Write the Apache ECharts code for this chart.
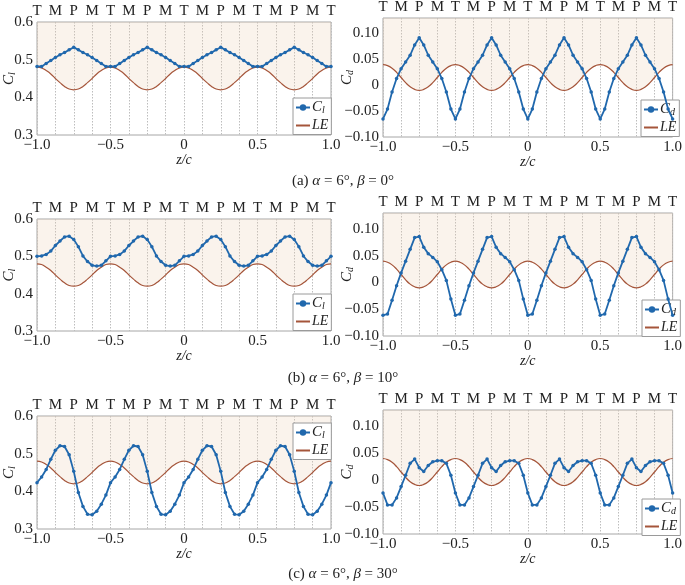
<!DOCTYPE html>
<html><head><meta charset="utf-8">
<script src="https://cdn.jsdelivr.net/npm/echarts@6/dist/echarts.min.js"></script>
<style>html,body{margin:0;padding:0;background:#fff}#c{width:685px;height:585px}</style>
</head><body><div id="c"></div>
<script>
// ---- data ----
const z = [-1,-0.96875,-0.9375,-0.90625,-0.875,-0.84375,-0.8125,-0.78125,-0.75,-0.71875,-0.6875,-0.65625,-0.625,-0.59375,-0.5625,-0.53125,
-0.5,-0.46875,-0.4375,-0.40625,-0.375,-0.34375,-0.3125,-0.28125,-0.25,-0.21875,-0.1875,-0.15625,-0.125,-0.09375,-0.0625,-0.03125,
0,0.03125,0.0625,0.09375,0.125,0.15625,0.1875,0.21875,0.25,0.28125,0.3125,0.34375,0.375,0.40625,0.4375,0.46875,
0.5,0.53125,0.5625,0.59375,0.625,0.65625,0.6875,0.71875,0.75,0.78125,0.8125,0.84375,0.875,0.90625,0.9375,0.96875,1];

const topLabels = ['T','M','P','M','T','M','P','M','T','M','P','M','T','M','P','M','T'];

const leL = [0.480,0.478,0.471,0.462,0.450,0.439,0.429,0.422,0.420,0.422,0.429,0.439,0.450,0.462,0.471,0.478,
0.480,0.478,0.471,0.462,0.450,0.439,0.429,0.422,0.420,0.422,0.429,0.439,0.450,0.462,0.471,0.478,
0.480,0.478,0.471,0.462,0.450,0.439,0.429,0.422,0.420,0.422,0.429,0.439,0.450,0.462,0.471,0.478,
0.480,0.478,0.471,0.462,0.450,0.439,0.429,0.422,0.420,0.422,0.429,0.439,0.450,0.462,0.471,0.478,0.480];

const leR = [0.040,0.038,0.033,0.025,0.015,0.005,-0.003,-0.008,-0.010,-0.008,-0.003,0.005,0.015,0.025,0.033,0.038,
0.040,0.038,0.033,0.025,0.015,0.005,-0.003,-0.008,-0.010,-0.008,-0.003,0.005,0.015,0.025,0.033,0.038,
0.040,0.038,0.033,0.025,0.015,0.005,-0.003,-0.008,-0.010,-0.008,-0.003,0.005,0.015,0.025,0.033,0.038,
0.040,0.038,0.033,0.025,0.015,0.005,-0.003,-0.008,-0.010,-0.008,-0.003,0.005,0.015,0.025,0.033,0.038,0.040];

const clA = [0.482,0.482,0.490,0.498,0.506,0.513,0.519,0.526,0.533,0.526,0.519,0.513,0.506,0.498,0.490,0.482,
0.482,0.482,0.490,0.498,0.506,0.513,0.519,0.526,0.533,0.526,0.519,0.513,0.506,0.498,0.490,0.482,
0.482,0.482,0.490,0.498,0.506,0.513,0.519,0.526,0.533,0.526,0.519,0.513,0.506,0.498,0.490,0.482,
0.482,0.482,0.490,0.498,0.506,0.513,0.519,0.526,0.533,0.526,0.519,0.513,0.506,0.498,0.490,0.482,0.482];

const cdA = [-0.065,-0.046,-0.013,0.013,0.032,0.045,0.058,0.078,0.092,0.078,0.058,0.045,0.032,0.013,-0.013,-0.046,
-0.065,-0.046,-0.013,0.013,0.032,0.045,0.058,0.078,0.092,0.078,0.058,0.045,0.032,0.013,-0.013,-0.046,
-0.065,-0.046,-0.013,0.013,0.032,0.045,0.058,0.078,0.092,0.078,0.058,0.045,0.032,0.013,-0.013,-0.046,
-0.065,-0.046,-0.013,0.013,0.032,0.045,0.058,0.078,0.092,0.078,0.058,0.045,0.032,0.013,-0.013,-0.046,-0.065];

const clB = [0.500,0.501,0.505,0.514,0.529,0.541,0.552,0.554,0.545,0.526,0.501,0.486,0.476,0.474,0.476,0.488,
0.500,0.501,0.505,0.514,0.529,0.541,0.552,0.554,0.545,0.526,0.501,0.486,0.476,0.474,0.476,0.488,
0.500,0.501,0.505,0.514,0.529,0.541,0.552,0.554,0.545,0.526,0.501,0.486,0.476,0.474,0.476,0.488,
0.500,0.501,0.505,0.514,0.529,0.541,0.552,0.554,0.545,0.526,0.501,0.486,0.476,0.474,0.476,0.488,0.500];

const cdB = [-0.061,-0.059,-0.033,-0.006,0.018,0.040,0.062,0.084,0.086,0.066,0.054,0.047,0.039,0.024,0.004,-0.031,
-0.061,-0.059,-0.033,-0.006,0.018,0.040,0.062,0.084,0.086,0.066,0.054,0.047,0.039,0.024,0.004,-0.031,
-0.061,-0.059,-0.033,-0.006,0.018,0.040,0.062,0.084,0.086,0.066,0.054,0.047,0.039,0.024,0.004,-0.031,
-0.061,-0.059,-0.033,-0.006,0.018,0.040,0.062,0.084,0.086,0.066,0.054,0.047,0.039,0.024,0.004,-0.031,-0.061];

const clC = [0.423,0.438,0.458,0.485,0.509,0.521,0.519,0.497,0.453,0.397,0.360,0.339,0.338,0.347,0.366,0.390,
0.423,0.438,0.458,0.485,0.509,0.521,0.519,0.497,0.453,0.397,0.360,0.339,0.338,0.347,0.366,0.390,
0.423,0.438,0.458,0.485,0.509,0.521,0.519,0.497,0.453,0.397,0.360,0.339,0.338,0.347,0.366,0.390,
0.423,0.438,0.458,0.485,0.509,0.521,0.519,0.497,0.453,0.397,0.360,0.339,0.338,0.347,0.366,0.390,0.423];

const cdC = [-0.024,-0.046,-0.046,-0.033,-0.012,0.009,0.031,0.039,0.023,0.016,0.027,0.034,0.036,0.036,0.031,0.009,
-0.024,-0.046,-0.046,-0.033,-0.012,0.009,0.031,0.039,0.023,0.016,0.027,0.034,0.036,0.036,0.031,0.009,
-0.024,-0.046,-0.046,-0.033,-0.012,0.009,0.031,0.039,0.023,0.016,0.027,0.034,0.036,0.036,0.031,0.009,
-0.024,-0.046,-0.046,-0.033,-0.012,0.009,0.031,0.039,0.023,0.016,0.027,0.034,0.036,0.036,0.031,0.009,-0.024];

const captions = [
  ['(a) ', ' = 6°, ', ' = 0°'],
  ['(b) ', ' = 6°, ', ' = 10°'],
  ['(c) ', ' = 6°, ', ' = 30°']
];

// ---- layout / style ----
const FONT = 'Liberation Serif';
const BLUE = '#2068ad';
const BROWN = '#a5553a';
const BEIGE = 'rgba(232,205,175,0.33)';

const panels = [
  {grid:{left:37,top:22,width:294,height:113}, y:[0.3,0.6,0.1], vals:clA, le:leL, nm:'Cl', sub:'l', leg:{left:293,top:98}, nameGap:20},
  {grid:{left:383,top:14,width:295,height:123}, y:[-0.1,0.13,0.05], vals:cdA, le:leR, nm:'Cd', sub:'d', leg:{left:641,top:100}, nameGap:28},
  {grid:{left:37,top:219,width:294,height:112}, y:[0.3,0.6,0.1], vals:clB, le:leL, nm:'Cl', sub:'l', leg:{left:293,top:294}, nameGap:20},
  {grid:{left:383,top:213,width:295,height:123}, y:[-0.1,0.13,0.05], vals:cdB, le:leR, nm:'Cd', sub:'d', leg:{left:642,top:300}, nameGap:28},
  {grid:{left:37,top:416,width:294,height:113}, y:[0.3,0.6,0.1], vals:clC, le:leL, nm:'Cl', sub:'l', leg:{left:293,top:423}, nameGap:20},
  {grid:{left:383,top:410,width:295,height:124}, y:[-0.1,0.13,0.05], vals:cdC, le:leR, nm:'Cd', sub:'d', leg:{left:642,top:499}, nameGap:28}
];

const richName = {
  c:{fontFamily:FONT,fontStyle:'italic',fontSize:15,color:'#222'},
  l:{fontFamily:FONT,fontStyle:'italic',fontSize:10,color:'#222',padding:[6,0,0,0]},
  d:{fontFamily:FONT,fontStyle:'italic',fontSize:10,color:'#222',padding:[6,0,0,0]},
  i:{fontFamily:FONT,fontStyle:'italic',fontSize:14,color:'#222'}
};

const pair = (xs, ys) => xs.map((x,i)=>[x, ys[i]]);
const fmtX = v => v === 0 ? '0' : v.toFixed(1).replace('-', '\u2212');

const grid=[], xAxis=[], yAxis=[], series=[], legend=[], graphic=[];
panels.forEach((p,i)=>{
  grid.push(Object.assign({show:true,borderColor:'#a6a6a6',borderWidth:1,backgroundColor:'transparent',containLabel:false}, p.grid));
  const yDec = p.y[2] < 0.1 ? 2 : 1;
  xAxis.push({gridIndex:i,type:'value',min:-1,max:1,interval:0.5,position:'bottom',
    axisLine:{show:false},axisTick:{show:false},splitLine:{show:false},
    axisLabel:{fontFamily:FONT,fontSize:15,color:'#222',margin:3,formatter:fmtX},
    name:'{i|z/c}',nameLocation:'middle',nameGap:18,nameMoveOverlap:false,nameTextStyle:{rich:richName}});
  xAxis.push({gridIndex:i,type:'value',min:-1,max:1,interval:0.125,position:'top',
    axisLine:{show:false},axisTick:{show:false},
    splitLine:{show:true,lineStyle:{color:'#bdbdbd',type:[1.5,1.5],width:1}},
    axisLabel:{fontFamily:FONT,fontSize:15,color:'#222',margin:3,formatter:(v,idx)=>topLabels[idx]}});
  yAxis.push({gridIndex:i,type:'value',min:p.y[0],max:p.y[1],interval:p.y[2],
    axisLine:{show:false},axisTick:{show:false},splitLine:{show:false},
    axisLabel:{fontFamily:FONT,fontSize:15,color:'#222',margin:4,showMaxLabel:yDec===1,
      formatter:v=> v===0 ? '0' : v.toFixed(yDec).replace('-', '\u2212')},
    name:'{c|C}{'+p.sub+'|'+p.sub+'}',nameLocation:'middle',nameRotate:90,nameGap:p.nameGap,nameMoveOverlap:false,
    nameTextStyle:{rich:richName}});
  const xb = 2*i;
  series.push({type:'line',name:'fill'+i,xAxisIndex:xb,yAxisIndex:i,data:pair(z,p.le),smooth:true,
    symbol:'none',silent:true,z:0,lineStyle:{width:0,opacity:0},
    areaStyle:{color:BEIGE,origin:'end'}});
  series.push({type:'line',name:'LE',xAxisIndex:xb,yAxisIndex:i,data:pair(z,p.le),smooth:true,
    symbol:'none',showSymbol:false,color:BROWN,lineStyle:{color:BROWN,width:1.2},z:3});
  series.push({type:'line',name:p.nm,xAxisIndex:xb,yAxisIndex:i,data:pair(z,p.vals),
    symbol:'circle',symbolSize:3.5,color:BLUE,itemStyle:{color:BLUE},lineStyle:{color:BLUE,width:1.8},z:4});
  legend.push({data:[p.nm,{name:'LE',itemStyle:{opacity:0}}],left:p.leg.left,top:p.leg.top,orient:'vertical',
    backgroundColor:'#fff',borderColor:'#9a9a9a',borderWidth:1,borderRadius:0,padding:[2,3,2,2],
    itemGap:3,itemWidth:14,itemHeight:8,selectedMode:false,
    textStyle:{rich:richName,fontFamily:FONT,padding:[0,0,0,-3]},
    formatter:n=> n==='LE' ? '{i|LE}' : '{c|C}{'+p.sub+'|'+p.sub+'}'});
});

const capY = [181, 378, 574];
captions.forEach((c,i)=>{
  graphic.push({type:'text',x:343,y:capY[i],style:{
    text:'{n|'+c[0]+'}{g|\u03b1}{n|'+c[1]+'}{g|\u03b2}{n|'+c[2]+'}',
    align:'center',verticalAlign:'middle',
    rich:{n:{fontFamily:FONT,fontSize:15,fill:'#222'},g:{fontFamily:FONT,fontStyle:'italic',fontSize:15,fill:'#222'}}
  }});
});

const chart = echarts.init(document.getElementById('c'), null, {renderer:'canvas'});
chart.setOption({animation:false, grid, xAxis, yAxis, series, legend, graphic});
</script></body></html>
